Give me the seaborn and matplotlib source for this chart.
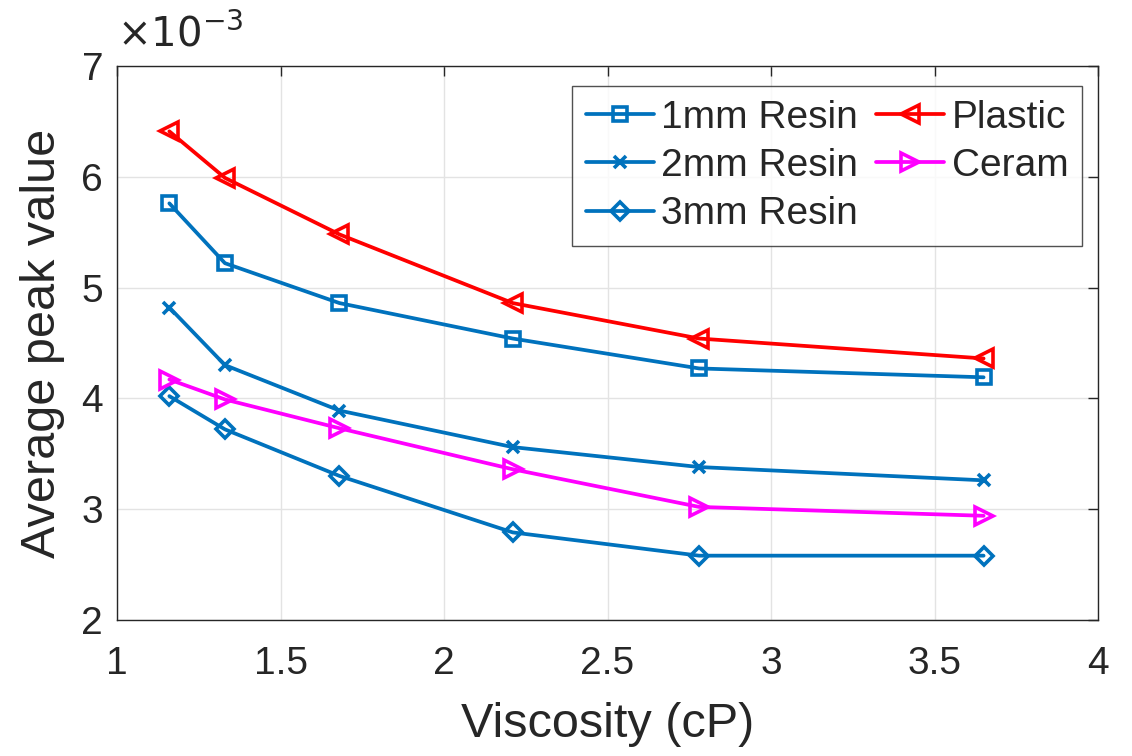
import numpy as np
import pandas as pd
import matplotlib
matplotlib.use("Agg")
import matplotlib.pyplot as plt
import seaborn as sns
from matplotlib.ticker import FuncFormatter

viscosity = [1.16, 1.33, 1.68, 2.21, 2.78, 3.65]
resin_1mm = [5.76, 5.22, 4.86, 4.54, 4.27, 4.19]
resin_2mm = [4.82, 4.30, 3.89, 3.56, 3.38, 3.26]
resin_3mm = [4.02, 3.72, 3.30, 2.79, 2.58, 2.58]
plastic = [6.41, 5.99, 5.48, 4.86, 4.54, 4.36]
ceram = [4.17, 3.99, 3.73, 3.36, 3.02, 2.94]
scale = 1e-3

series = [
    ("1mm Resin", resin_1mm, "#0072BD", "s", 10),
    ("2mm Resin", resin_2mm, "#0072BD", "x", 8),
    ("3mm Resin", resin_3mm, "#0072BD", "D", 9),
    ("Plastic", plastic, "#FF0000", "<", 13),
    ("Ceram", ceram, "#FF00FF", ">", 13),
]

sns.set_style("white")
plt.rcParams['font.family'] = ['Liberation Sans', 'DejaVu Sans']

fig = plt.figure(figsize=(11.32, 7.56), dpi=100)
ax = fig.add_axes([0.1034, 0.180, 0.8666, 0.7327])

for name, vals, col, mk, ms in series:
    df = pd.DataFrame({"x": viscosity, "y": np.array(vals) * scale})
    sns.lineplot(data=df, x="x", y="y", ax=ax, color=col, marker=mk, markersize=ms,
                 markerfacecolor="none", markeredgecolor=col, markeredgewidth=2.6,
                 linewidth=2.7, label=name)

ax.set_xlim(1, 4)
ax.set_ylim(2e-3, 7e-3)
ax.set_xticks([1, 1.5, 2, 2.5, 3, 3.5, 4])
ax.set_yticks(np.arange(2, 8) * scale)
ax.xaxis.set_major_formatter(FuncFormatter(lambda v, p: f"{v:g}"))
ax.yaxis.set_major_formatter(FuncFormatter(lambda v, p: f"{v/scale:.0f}"))
ax.tick_params(direction="in", length=7, width=1, top=True, right=True,
               labelsize=28, colors="#262626")
ax.tick_params(axis="y", pad=10)
ax.tick_params(axis="x", pad=19)
ax.grid(True, color="#e3e3e3", linewidth=1)
for s in ax.spines.values():
    s.set_color("#262626")
    s.set_linewidth(1)

ax.set_xlabel("Viscosity (cP)", fontsize=35, color="#262626", labelpad=14)
ax.set_ylabel("Average peak value", fontsize=35, color="#262626", labelpad=12)
ax.text(0.0, 1.02, r"$\times10^{-3}$", transform=ax.transAxes, fontsize=29,
        color="#262626", ha="left", va="bottom", math_fontfamily="dejavusans")

leg = ax.legend(ncol=2, loc="upper right", bbox_to_anchor=(0.9837, 0.964),
                fontsize=28, frameon=True, fancybox=False, handlelength=1.75,
                handletextpad=0.2, columnspacing=0.45, labelspacing=0.32,
                borderpad=0.35, borderaxespad=0)
leg.get_frame().set_edgecolor("#262626")
leg.get_frame().set_linewidth(1)

fig.savefig("out.png", dpi=100)
